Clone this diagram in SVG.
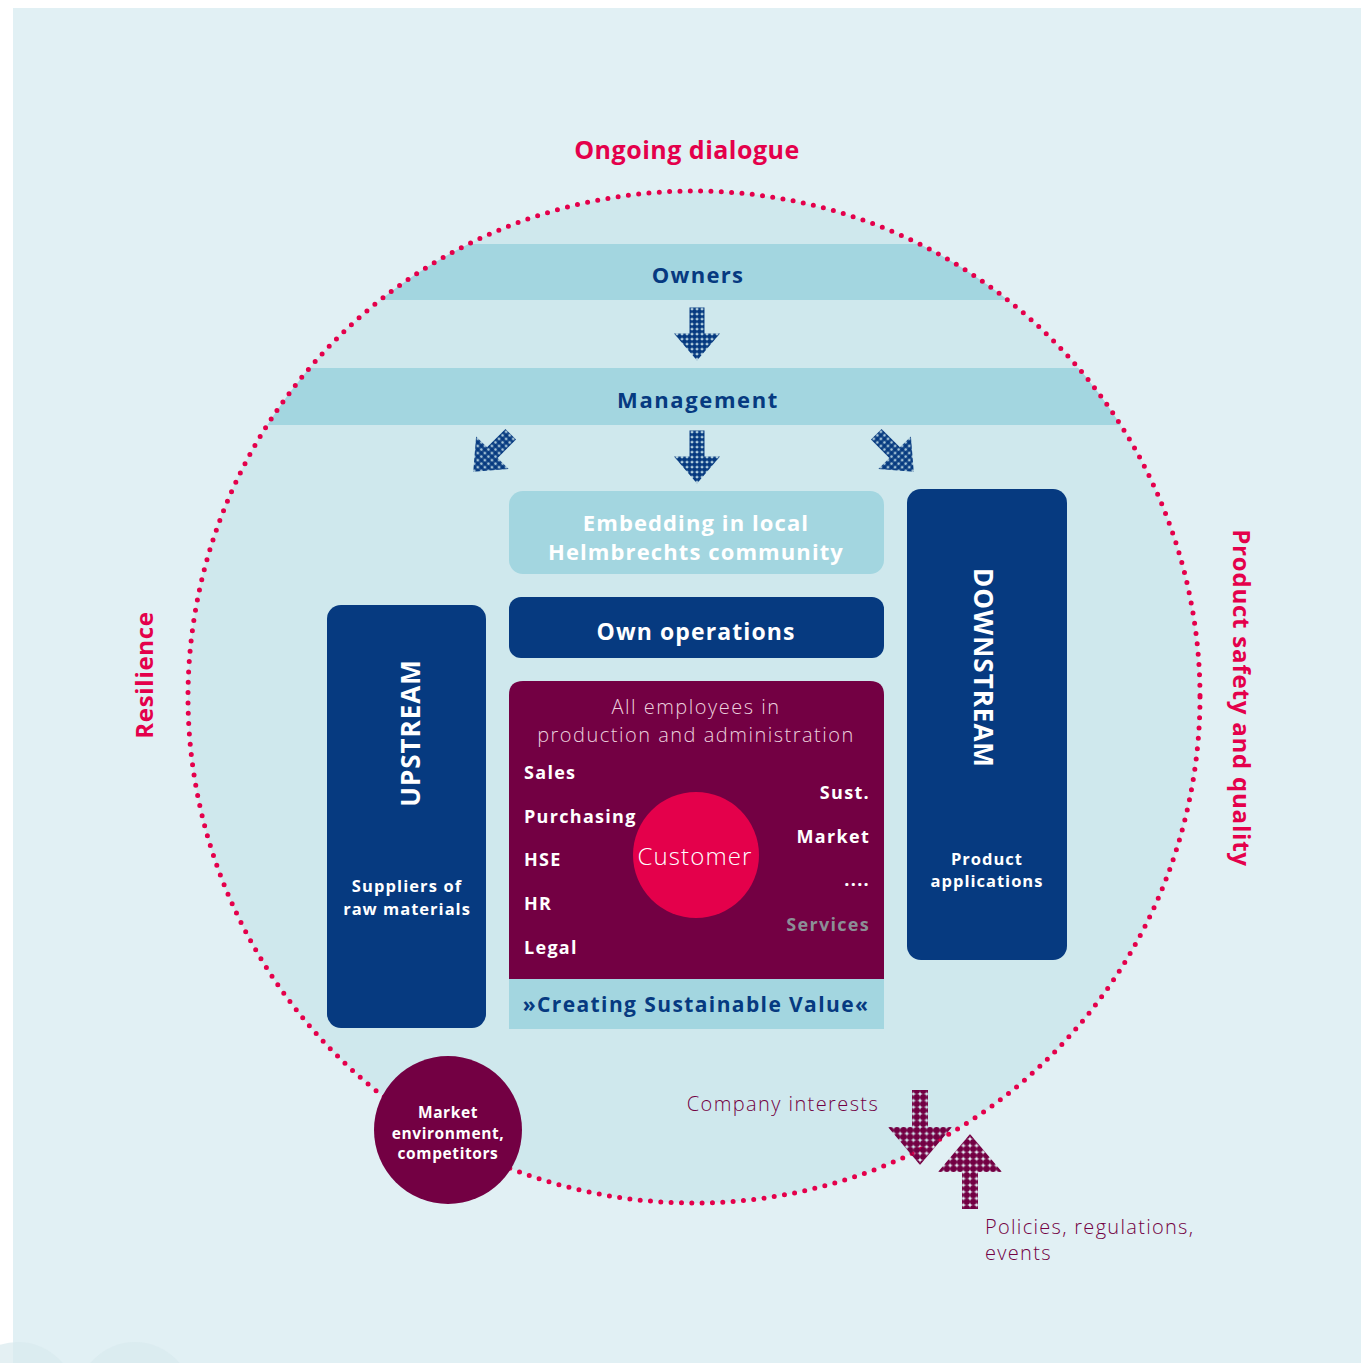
<svg xmlns="http://www.w3.org/2000/svg" width="1361" height="1363" viewBox="0 0 1361 1363">
<defs>
<style>
.t{font-family:"Open Sans","Liberation Sans",sans-serif}
.b{font-weight:700}
.l{font-weight:300}
.navy{fill:#063a80}
.crim{fill:#e4004b}
.wh{fill:#ffffff}
.mar{fill:#730043}
</style>
<pattern id="dotB" patternUnits="userSpaceOnUse" width="5" height="5"><circle cx="2.5" cy="2.5" r="2.5" fill="#063a80"/></pattern>
<pattern id="dotP" patternUnits="userSpaceOnUse" width="6.6" height="6.6"><circle cx="3.3" cy="3.3" r="3.3" fill="#730043"/></pattern>
<clipPath id="circ"><circle cx="694" cy="697" r="506"/></clipPath>
<path id="arrB" d="M-7.5,-26.5 H7.5 V-0.5 H23 L0,26.5 L-23,-0.5 H-7.5 Z"/>
<path id="arrP" d="M-8,-37 H8 V0 H32 L0,38 L-32,0 H-8 Z"/>
</defs>

<rect x="0" y="0" width="1361" height="1363" fill="#ffffff"/>
<rect x="13" y="8" width="1348" height="1355" fill="#e1f0f4"/>
<circle cx="18" cy="1400" r="58" fill="#d8e9ee" opacity="0.7"/>
<circle cx="135" cy="1400" r="58" fill="#d8e9ee" opacity="0.7"/>

<circle cx="694" cy="697" r="506" fill="#cfe8ed"/>
<g clip-path="url(#circ)">
<rect x="100" y="244" width="1200" height="56" fill="#a3d6e0"/>
<rect x="100" y="368" width="1200" height="57" fill="#a3d6e0"/>
</g>
<circle cx="694" cy="697" r="506" fill="none" stroke="#e4004b" stroke-width="5" stroke-linecap="round" stroke-dasharray="0 10.35"/>

<text class="t b crim" x="687" y="159" font-size="25" letter-spacing="0.5" text-anchor="middle">Ongoing dialogue</text>
<text class="t b crim" font-size="24" letter-spacing="0.7" text-anchor="middle" transform="translate(153,675) rotate(-90)">Resilience</text>
<text class="t b crim" font-size="24" letter-spacing="0.8" text-anchor="middle" transform="translate(1233,698) rotate(90)">Product safety and quality</text>

<g id="owners"><text class="t b navy" x="698" y="283" font-size="22" letter-spacing="1.3" text-anchor="middle">Owners</text></g>
<g id="management"><text class="t b navy" x="698" y="408" font-size="22" letter-spacing="1.6" text-anchor="middle">Management</text></g>

<g id="connectors">
<use href="#arrB" fill="url(#dotB)" transform="translate(697,334)"/>
<use href="#arrB" fill="url(#dotB)" transform="translate(697,457)"/>
<use href="#arrB" fill="url(#dotB)" transform="translate(492,453) rotate(45)"/>
<use href="#arrB" fill="url(#dotB)" transform="translate(895,453) rotate(-45)"/>
</g>

<g id="embedding">
<rect x="509" y="491" width="375" height="83" rx="14" fill="#a3d6e0"/>
<text class="t b wh" x="696" y="531" font-size="22" letter-spacing="1.1" text-anchor="middle">Embedding in local</text>
<text class="t b wh" x="696" y="560" font-size="22" letter-spacing="1.1" text-anchor="middle">Helmbrechts community</text>
</g>

<g id="own-operations">
<rect x="509" y="597" width="375" height="61" rx="12" fill="#063a80"/>
<text class="t b wh" x="696" y="640" font-size="23" letter-spacing="1.1" text-anchor="middle">Own operations</text>
</g>

<g id="employees">
<path d="M509,695 Q509,681 523,681 H870 Q884,681 884,695 V979 H509 Z" fill="#730043"/>
<rect x="509" y="979" width="375" height="50" fill="#a3d6e0"/>
<text class="t b navy" x="696" y="1012" font-size="21" letter-spacing="1.4" text-anchor="middle">»Creating Sustainable Value«</text>
<text class="t l" fill="#ecd0de" x="696" y="714" font-size="20" letter-spacing="1.5" text-anchor="middle">All employees in</text>
<text class="t l" fill="#ecd0de" x="696" y="742" font-size="20" letter-spacing="1.5" text-anchor="middle">production and administration</text>
<g class="t b wh" font-size="18" letter-spacing="1.3">
<text x="524" y="779">Sales</text>
<text x="524" y="823">Purchasing</text>
<text x="524" y="866">HSE</text>
<text x="524" y="910">HR</text>
<text x="524" y="954">Legal</text>
<text x="870" y="799" text-anchor="end">Sust.</text>
<text x="870" y="843" text-anchor="end">Market</text>
<text x="870" y="886" text-anchor="end">....</text>
<text x="870" y="931" text-anchor="end" fill="#8c8f96">Services</text>
</g>
</g>

<g id="customer">
<circle cx="696" cy="855" r="63" fill="#e4004b"/>
<text class="t l wh" x="695" y="865" font-size="24" letter-spacing="1.1" text-anchor="middle">Customer</text>
</g>

<g id="upstream">
<rect x="327" y="605" width="159" height="423" rx="14" fill="#063a80"/>
<text class="t b wh" font-size="26" letter-spacing="1" text-anchor="middle" transform="translate(420,733) rotate(-90)">UPSTREAM</text>
<text class="t b wh" x="407" y="892" font-size="16.5" letter-spacing="1.1" text-anchor="middle">Suppliers of</text>
<text class="t b wh" x="407" y="915" font-size="16.5" letter-spacing="1" text-anchor="middle">raw materials</text>
</g>

<g id="downstream">
<rect x="907" y="489" width="160" height="471" rx="14" fill="#063a80"/>
<text class="t b wh" font-size="26" letter-spacing="1" text-anchor="middle" transform="translate(974,668) rotate(90)">DOWNSTREAM</text>
<text class="t b wh" x="987" y="865" font-size="16.5" letter-spacing="1" text-anchor="middle">Product</text>
<text class="t b wh" x="987" y="887" font-size="16.5" letter-spacing="1" text-anchor="middle">applications</text>
</g>

<g id="market">
<circle cx="448" cy="1130" r="74" fill="#730043"/>
<text class="t b wh" x="448" y="1118" font-size="15.5" letter-spacing="0.6" text-anchor="middle">Market</text>
<text class="t b wh" x="448" y="1139" font-size="15.5" letter-spacing="0.6" text-anchor="middle">environment,</text>
<text class="t b wh" x="448" y="1159" font-size="15.5" letter-spacing="0.6" text-anchor="middle">competitors</text>
</g>

<g id="company-interests">
<text class="t l mar" x="783" y="1111" font-size="20" letter-spacing="1.4" text-anchor="middle">Company interests</text>
<use href="#arrP" fill="url(#dotP)" transform="translate(920,1127)"/>
</g>

<g id="policies">
<use href="#arrP" fill="url(#dotP)" transform="translate(970,1172) rotate(180)"/>
<text class="t l mar" x="985" y="1234" font-size="20" letter-spacing="1.3">Policies, regulations,</text>
<text class="t l mar" x="985" y="1260" font-size="20" letter-spacing="1.3">events</text>
</g>
</svg>
